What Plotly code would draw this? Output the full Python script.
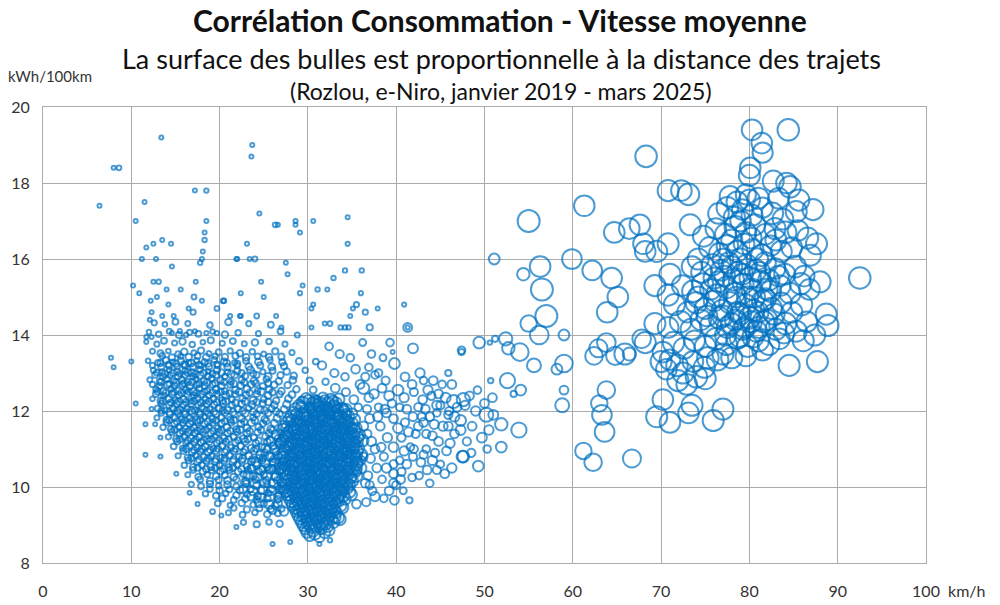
import plotly.graph_objects as go

# ---------------- data (speed km/h, consumption kWh/100km, trip distance km) -------------
short_speed = [
    6.4, 8.0, 8.6, 13.4, 11.5, 10.5, 17.2, 18.5, 18.5, 18.3,
    18.3, 13.5, 12.5, 14.5, 11.7, 18.1, 11.2, 12.8, 17.8, 18.0,
    21.9, 14.6, 13.1, 12.5, 17.3, 10.2, 10.9, 14.0, 15.6, 17.1,
    18.0, 20.4, 12.2, 12.9, 14.2, 19.7, 17.0, 16.5, 21.2, 12.3,
    12.1, 13.5, 14.8, 22.3, 23.7, 23.6, 24.5, 26.3, 26.6, 28.6,
    28.6, 29.1, 30.6, 34.5, 34.5, 23.1, 22.0, 23.4, 24.0, 27.5,
    27.7, 24.7, 22.4, 25.0, 20.5, 22.4, 24.2, 26.4, 27.0, 29.1,
    29.4, 31.1, 32.2, 32.9, 34.2, 36.1, 36.0, 35.5, 35.1, 34.8,
    36.5, 37.9, 40.9, 41.3, 30.4, 30.6, 30.4, 31.9, 32.5, 33.7,
    34.2, 34.6, 7.7, 8.0, 10.0, 10.5, 11.6, 11.6, 12.7, 12.3,
    13.3, 13.3, 15.1, 16.6, 17.5, 19.2, 20.2, 21.9, 26.0, 28.0,
    31.3, 32.5, 14.6, 15.5, 16.2, 17.2, 18.5, 19.7, 11.7, 12.3,
]
short_cons = [
    17.4, 18.4, 18.4, 19.2, 17.5, 17.0, 17.8, 17.8, 17.0, 16.7,
    16.5, 16.5, 16.4, 16.4, 16.3, 16.2, 16.0, 16.0, 15.9, 16.0,
    16.0, 15.8, 15.4, 15.4, 15.4, 15.3, 15.1, 15.2, 15.2, 15.0,
    14.9, 14.9, 14.9, 15.0, 14.8, 14.7, 14.6, 14.7, 14.5, 14.6,
    14.4, 14.5, 14.5, 14.5, 19.0, 18.7, 17.2, 16.9, 16.9, 17.0,
    16.9, 16.7, 17.0, 17.1, 16.4, 16.4, 16.0, 16.0, 16.0, 15.9,
    15.6, 15.4, 15.1, 15.0, 14.9, 14.5, 14.5, 14.5, 14.2, 15.1,
    15.3, 15.2, 15.2, 15.5, 15.7, 15.7, 15.1, 14.8, 14.7, 14.5,
    14.6, 14.7, 14.8, 14.2, 14.7, 14.8, 14.2, 14.3, 14.3, 14.2,
    14.2, 14.2, 13.4, 13.15, 13.3, 12.2, 10.85, 11.65, 11.65, 12.05,
    11.3, 10.8, 10.35, 9.85, 9.55, 9.35, 9.25, 8.95, 8.5, 8.55,
    8.5, 8.6, 14.05, 14.1, 14.0, 14.1, 14.05, 14.05, 13.95, 13.95,
]
short_dist = [
    4, 4, 12, 5, 3, 8, 8, 10, 8, 6,
    10, 4, 5, 4, 4, 7, 5, 5, 10, 6,
    8, 5, 10, 5, 5, 3, 7, 2, 8, 12,
    8, 12, 6, 5, 6, 12, 14, 6, 8, 4,
    8, 4, 5, 8, 4, 8, 4, 12, 8, 9,
    8, 3, 4, 8, 9, 7, 8, 6, 12, 6,
    5, 4, 6, 5, 10, 7, 12, 3, 8, 9,
    6, 10, 8, 10, 10, 10, 9, 14, 8, 8,
    14, 6, 9, 9, 8, 8, 7, 8, 12, 10,
    10, 10, 3, 3, 3, 3, 3, 4, 4, 8,
    4, 3, 8, 8, 4, 12, 8, 4, 6, 5,
    8, 10, 8, 9, 10, 8, 9, 10, 6, 7,
]

urban_speed = [
    12.6, 13.8, 15.0, 16.4, 18.9, 21.0, 23.3, 25.8,
    12.0, 13.1, 14.3, 15.4, 16.6, 17.6, 19.2, 20.6, 22.1, 24.4, 26.9, 28.8,
    11.7, 12.9, 13.7, 14.9, 15.8, 16.9, 18.1, 19.0, 20.3, 21.5, 22.8, 24.0, 25.6, 27.4,
    12.4, 13.3, 14.2, 15.3, 16.0, 17.1, 17.9, 18.8, 19.9, 21.2, 22.3, 23.7, 25.0, 26.3, 28.2,
    11.9, 13.0, 13.9, 14.7, 15.6, 16.5, 17.4, 18.3, 19.4, 20.5, 21.7, 23.0, 24.4, 25.7, 27.1, 29.0, 30.9,
    12.5, 13.5, 14.3, 15.2, 16.1, 16.9, 17.8, 18.7, 19.7, 20.9, 22.0, 23.5, 24.9, 26.0, 27.6, 29.7,
    12.1, 13.2, 14.0, 14.8, 15.7, 16.4, 17.3, 18.2, 19.1, 20.1, 21.3, 22.5, 23.9, 25.3, 26.7, 28.3, 30.2, 32.0,
    12.8, 13.6, 14.5, 15.3, 16.2, 17.0, 17.7, 18.6, 19.6, 20.6, 21.8, 23.1, 24.3, 25.6, 27.0, 28.7, 30.6,
    12.4, 13.3, 14.2, 15.0, 15.9, 16.7, 17.5, 18.4, 19.3, 20.3, 21.4, 22.6, 23.8, 25.0, 26.4, 27.8, 29.3, 31.0,
    13.0, 13.8, 14.7, 15.5, 16.3, 17.2, 18.0, 18.9, 19.9, 20.9, 22.1, 23.3, 24.6, 25.9, 27.3,
    12.9, 14.0, 14.9, 15.7, 16.6, 17.4, 18.3, 19.2, 20.2, 21.2, 22.5, 23.8, 25.1, 26.5,
    13.6, 14.5, 15.4, 16.2, 17.1, 17.9, 18.8, 19.8, 20.8, 21.9, 23.1, 24.4, 25.8,
    14.2, 15.1, 16.0, 16.8, 17.7, 18.6, 19.5, 20.5, 21.6, 22.7, 23.9, 25.2, 26.6,
    14.8, 15.8, 16.6, 17.5, 18.4, 19.3, 20.3, 21.3, 22.4, 23.6, 24.8, 26.1,
    15.3, 16.4, 17.3, 18.2, 19.1, 20.1, 21.1, 22.2, 23.3, 24.5, 25.8,
    16.0, 17.0, 18.0, 19.0, 20.0, 21.0, 22.0, 23.1, 24.2, 25.4, 26.6,
    16.4, 17.6, 18.6, 19.6, 20.6, 21.6, 22.7, 23.8, 25.0, 26.2,
    16.8, 17.9, 18.9, 19.9, 20.9, 21.9, 23.0, 24.2, 25.4, 26.6,
    18.4, 19.6, 20.7, 21.9, 23.1, 24.3, 25.5, 26.7,
    19.8, 21.2, 22.5, 23.8, 25.0, 26.3,
    21.0, 22.6, 24.0, 25.4, 26.6,
    22.7, 24.2, 25.6, 26.8,
]
urban_cons = [
    14.32, 14.28, 14.35, 14.3, 14.26, 14.34, 14.3, 14.27,
    14.08, 14.02, 14.1, 14.0, 14.07, 14.03, 14.09, 14.01, 14.06, 14.04, 14.1, 14.0,
    13.82, 13.76, 13.85, 13.79, 13.83, 13.75, 13.81, 13.86, 13.78, 13.84, 13.77, 13.8, 13.83, 13.76,
    13.57, 13.52, 13.58, 13.5, 13.56, 13.53, 13.59, 13.51, 13.55, 13.58, 13.52, 13.56, 13.5, 13.57, 13.54,
    13.32, 13.27, 13.34, 13.29, 13.31, 13.26, 13.33, 13.28, 13.35, 13.3, 13.27, 13.32, 13.29, 13.34, 13.28, 13.31, 13.3,
    13.07, 13.02, 13.08, 13.03, 13.06, 13.01, 13.09, 13.04, 13.07, 13.02, 13.05, 13.08, 13.03, 13.06, 13.04, 13.07,
    12.82, 12.77, 12.84, 12.79, 12.81, 12.76, 12.83, 12.78, 12.85, 12.8, 12.77, 12.82, 12.79, 12.84, 12.78, 12.81, 12.8, 12.77,
    12.57, 12.52, 12.58, 12.53, 12.56, 12.51, 12.59, 12.54, 12.57, 12.52, 12.55, 12.58, 12.53, 12.56, 12.52, 12.57, 12.55,
    12.32, 12.27, 12.33, 12.28, 12.31, 12.26, 12.34, 12.29, 12.32, 12.27, 12.3, 12.33, 12.28, 12.31, 12.27, 12.32, 12.29, 12.3,
    12.07, 12.02, 12.08, 12.03, 12.06, 12.01, 12.09, 12.04, 12.07, 12.02, 12.05, 12.08, 12.03, 12.06, 12.04,
    11.82, 11.77, 11.83, 11.78, 11.81, 11.76, 11.84, 11.79, 11.82, 11.77, 11.8, 11.83, 11.78, 11.81,
    11.57, 11.52, 11.58, 11.53, 11.56, 11.51, 11.59, 11.54, 11.57, 11.52, 11.55, 11.58, 11.53,
    11.32, 11.27, 11.33, 11.28, 11.31, 11.26, 11.34, 11.29, 11.32, 11.27, 11.3, 11.33, 11.28,
    11.07, 11.02, 11.08, 11.03, 11.06, 11.01, 11.09, 11.04, 11.07, 11.02, 11.05, 11.08,
    10.82, 10.77, 10.83, 10.78, 10.81, 10.76, 10.84, 10.79, 10.82, 10.77, 10.8,
    10.57, 10.52, 10.58, 10.53, 10.56, 10.51, 10.59, 10.54, 10.57, 10.52, 10.55,
    10.32, 10.27, 10.33, 10.28, 10.31, 10.26, 10.34, 10.29, 10.32, 10.27,
    10.07, 10.02, 10.08, 10.03, 10.06, 10.01, 10.09, 10.04, 10.07, 10.02,
    9.82, 9.77, 9.83, 9.78, 9.81, 9.76, 9.84, 9.79,
    9.57, 9.52, 9.58, 9.53, 9.56, 9.51,
    9.32, 9.27, 9.33, 9.28, 9.31,
    9.07, 9.02, 9.08, 9.03,
]
urban_dist = [
    14, 11, 18, 13, 16, 22, 14, 18,
    11, 16, 13, 20, 14, 18, 11, 22, 16, 14, 18, 13,
    9, 14, 18, 13, 22, 16, 11, 20, 14, 18, 13, 22, 16, 14,
    13, 18, 11, 16, 22, 14, 20, 13, 18, 14, 22, 16, 13, 20, 14,
    11, 16, 20, 14, 24, 18, 13, 22, 16, 20, 14, 18, 24, 16, 20, 22, 18,
    14, 20, 13, 22, 16, 25, 18, 14, 22, 16, 20, 24, 14, 18, 22, 16,
    13, 18, 22, 16, 25, 20, 14, 24, 18, 22, 16, 20, 25, 18, 22, 24, 20, 22,
    16, 22, 14, 24, 18, 27, 20, 16, 24, 18, 22, 25, 16, 20, 24, 22, 25,
    11, 18, 24, 16, 22, 14, 25, 20, 18, 24, 16, 22, 27, 18, 22, 25, 20, 24,
    18, 14, 22, 25, 16, 20, 24, 18, 22, 27, 20, 16, 24, 22, 25,
    13, 20, 24, 18, 22, 27, 16, 22, 25, 20, 24, 18, 22, 25,
    16, 22, 18, 25, 20, 24, 16, 22, 27, 18, 24, 20, 25,
    14, 22, 18, 24, 20, 25, 16, 22, 18, 27, 20, 24, 22,
    18, 14, 22, 20, 25, 16, 24, 18, 22, 25, 20, 24,
    14, 20, 16, 24, 18, 22, 25, 20, 24, 18, 22,
    16, 22, 18, 24, 20, 25, 18, 22, 27, 20, 24,
    13, 20, 16, 22, 18, 24, 20, 25, 22, 24,
    14, 18, 22, 16, 24, 20, 22, 25, 18, 24,
    16, 20, 14, 22, 18, 24, 20, 22,
    18, 14, 22, 16, 20, 24,
    13, 18, 16, 22, 18,
    14, 20, 16, 22,
]

urban2_speed = [
    13.5, 14.6, 15.6, 16.5, 17.5, 18.5, 19.5, 20.6, 21.8, 23.0, 24.3, 25.6, 27.0,
    12.4, 13.4, 14.3, 15.2, 16.1, 17.0, 17.9, 18.8, 19.8, 20.9, 22.0, 23.3, 24.6, 25.9, 27.3,
    12.7, 13.6, 14.4, 15.3, 16.1, 17.0, 17.8, 18.7, 19.6, 20.6, 21.7, 22.9, 24.2, 25.5, 26.9, 28.4,
    12.4, 13.2, 14.1, 14.9, 15.8, 16.6, 17.4, 18.3, 19.2, 20.2, 21.2, 22.4, 23.6, 24.9, 26.2, 27.7,
    12.8, 13.7, 14.6, 15.4, 16.3, 17.1, 17.9, 18.8, 19.7, 20.7, 21.8, 23.0, 24.2, 25.5, 26.8, 28.2,
    13.4, 14.3, 15.1, 15.9, 16.8, 17.6, 18.5, 19.4, 20.4, 21.4, 22.5, 23.7, 24.9, 26.2, 27.6,
    13.4, 14.4, 15.3, 16.1, 16.9, 17.8, 18.7, 19.6, 20.6, 21.7, 22.9, 24.2, 25.5, 26.8,
    14.0, 14.9, 15.8, 16.6, 17.5, 18.3, 19.2, 20.2, 21.3, 22.4, 23.6, 24.9, 26.2,
    14.6, 15.5, 16.4, 17.2, 18.1, 19.0, 19.9, 20.9, 22.0, 23.1, 24.3, 25.6, 26.9,
    15.2, 16.2, 17.1, 17.9, 18.8, 19.7, 20.7, 21.8, 22.9, 24.1, 25.4, 26.7,
    15.9, 16.9, 17.8, 18.7, 19.6, 20.6, 21.6, 22.7, 23.9, 25.1, 26.4,
    16.5, 17.5, 18.5, 19.5, 20.5, 21.5, 22.5, 23.6, 24.8, 26.0, 27.1,
    17.0, 18.1, 19.1, 20.1, 21.1, 22.1, 23.2, 24.4, 25.6, 26.8,
    17.8, 18.9, 19.9, 20.9, 21.9, 23.0, 24.1, 25.3, 26.5,
    18.9, 20.0, 21.1, 22.3, 23.5, 24.7, 25.9, 27.0,
    20.3, 21.6, 22.9, 24.2, 25.4, 26.6,
    21.6, 23.1, 24.5, 25.8, 27.0,
]
urban2_cons = [
    13.45, 13.41, 13.44, 13.42, 13.45, 13.41, 13.44, 13.42, 13.45, 13.41, 13.44, 13.42, 13.43,
    13.2, 13.16, 13.19, 13.17, 13.2, 13.16, 13.19, 13.17, 13.2, 13.16, 13.19, 13.17, 13.2, 13.16, 13.18,
    12.95, 12.91, 12.94, 12.92, 12.95, 12.91, 12.94, 12.92, 12.95, 12.91, 12.94, 12.92, 12.95, 12.91, 12.94, 12.93,
    12.7, 12.66, 12.69, 12.67, 12.7, 12.66, 12.69, 12.67, 12.7, 12.66, 12.69, 12.67, 12.7, 12.66, 12.69, 12.68,
    12.45, 12.41, 12.44, 12.42, 12.45, 12.41, 12.44, 12.42, 12.45, 12.41, 12.44, 12.42, 12.45, 12.41, 12.44, 12.43,
    12.2, 12.16, 12.19, 12.17, 12.2, 12.16, 12.19, 12.17, 12.2, 12.16, 12.19, 12.17, 12.2, 12.16, 12.18,
    11.95, 11.91, 11.94, 11.92, 11.95, 11.91, 11.94, 11.92, 11.95, 11.91, 11.94, 11.92, 11.95, 11.93,
    11.7, 11.66, 11.69, 11.67, 11.7, 11.66, 11.69, 11.67, 11.7, 11.66, 11.69, 11.67, 11.68,
    11.45, 11.41, 11.44, 11.42, 11.45, 11.41, 11.44, 11.42, 11.45, 11.41, 11.44, 11.42, 11.43,
    11.2, 11.16, 11.19, 11.17, 11.2, 11.16, 11.19, 11.17, 11.2, 11.16, 11.19, 11.18,
    10.95, 10.91, 10.94, 10.92, 10.95, 10.91, 10.94, 10.92, 10.95, 10.91, 10.93,
    10.7, 10.66, 10.69, 10.67, 10.7, 10.66, 10.69, 10.67, 10.7, 10.66, 10.68,
    10.45, 10.41, 10.44, 10.42, 10.45, 10.41, 10.44, 10.42, 10.45, 10.43,
    10.2, 10.16, 10.19, 10.17, 10.2, 10.16, 10.19, 10.17, 10.18,
    9.95, 9.91, 9.94, 9.92, 9.95, 9.91, 9.94, 9.93,
    9.7, 9.66, 9.69, 9.67, 9.7, 9.68,
    9.45, 9.41, 9.44, 9.42, 9.43,
]
urban2_dist = [
    16, 20, 14, 22, 18, 24, 15, 21, 19, 23, 17, 22, 20,
    14, 19, 22, 17, 24, 20, 16, 23, 18, 21, 15, 22, 19, 24, 20,
    18, 22, 15, 24, 20, 17, 25, 19, 22, 16, 23, 20, 18, 24, 21, 22,
    15, 21, 24, 18, 22, 26, 17, 23, 20, 24, 18, 22, 25, 19, 23, 21,
    19, 16, 23, 21, 25, 18, 24, 20, 22, 26, 19, 23, 21, 25, 20, 24,
    17, 22, 25, 19, 23, 21, 26, 20, 24, 18, 22, 25, 21, 23, 26,
    16, 21, 24, 20, 26, 22, 19, 25, 23, 21, 26, 20, 24, 22,
    19, 23, 21, 26, 20, 24, 22, 25, 19, 23, 26, 21, 24,
    17, 22, 25, 20, 24, 21, 26, 23, 20, 25, 22, 24, 21,
    20, 16, 24, 22, 26, 19, 23, 21, 25, 22, 24, 20,
    18, 22, 20, 25, 21, 24, 23, 19, 26, 22, 24,
    17, 23, 20, 24, 22, 26, 21, 25, 23, 20, 24,
    16, 21, 19, 24, 22, 25, 20, 23, 26, 22,
    18, 22, 20, 25, 21, 24, 23, 26, 22,
    17, 21, 19, 24, 22, 25, 20, 23,
    20, 17, 23, 21, 24, 22,
    16, 21, 19, 23, 20,
]

urban3_speed = [
    13.3, 14.2, 15.1, 16.0, 16.8, 17.7, 18.7, 19.7, 20.8, 22.0,
    12.9, 13.8, 14.7, 15.5, 16.4, 17.3, 18.2, 19.2, 20.2, 21.3, 22.5, 23.8,
    13.4, 14.3, 15.1, 16.0, 16.9, 17.7, 18.6, 19.5, 20.5, 21.6, 22.8, 24.1, 25.5,
    13.0, 13.9, 14.8, 15.7, 16.5, 17.4, 18.3, 19.2, 20.1, 21.1, 22.2, 23.4, 24.7, 26.0,
    13.6, 14.5, 15.4, 16.2, 17.1, 17.9, 18.8, 19.7, 20.7, 21.8, 22.9, 24.2, 25.5,
    13.4, 14.3, 15.2, 16.0, 16.8, 17.7, 18.5, 19.4, 20.4, 21.5, 22.6, 23.8, 25.1, 26.4,
    14.3, 15.2, 16.1, 16.9, 17.8, 18.7, 19.6, 20.6, 21.6, 22.8, 24.0, 25.3,
    14.9, 15.8, 16.7, 17.5, 18.4, 19.3, 20.2, 21.2, 22.3, 23.4, 24.7, 26.0,
    15.5, 16.4, 17.3, 18.2, 19.1, 20.0, 21.0, 22.1, 23.2, 24.4, 25.7,
    16.2, 17.1, 18.0, 18.9, 19.8, 20.8, 21.8, 22.9, 24.1, 25.4,
    16.8, 17.7, 18.7, 19.6, 20.6, 21.6, 22.6, 23.7, 24.9, 26.1,
    17.5, 18.5, 19.5, 20.5, 21.5, 22.5, 23.6, 24.8, 26.0,
]
urban3_cons = [
    13.26, 13.22, 13.25, 13.23, 13.26, 13.22, 13.25, 13.23, 13.26, 13.24,
    13.01, 12.97, 13.0, 12.98, 13.01, 12.97, 13.0, 12.98, 13.01, 12.97, 13.0, 12.99,
    12.76, 12.72, 12.75, 12.73, 12.76, 12.72, 12.75, 12.73, 12.76, 12.72, 12.75, 12.73, 12.74,
    12.51, 12.47, 12.5, 12.48, 12.51, 12.47, 12.5, 12.48, 12.51, 12.47, 12.5, 12.48, 12.51, 12.49,
    12.26, 12.22, 12.25, 12.23, 12.26, 12.22, 12.25, 12.23, 12.26, 12.22, 12.25, 12.23, 12.24,
    12.01, 11.97, 12.0, 11.98, 12.01, 11.97, 12.0, 11.98, 12.01, 11.97, 12.0, 11.98, 12.01, 11.99,
    11.76, 11.72, 11.75, 11.73, 11.76, 11.72, 11.75, 11.73, 11.76, 11.72, 11.75, 11.74,
    11.51, 11.47, 11.5, 11.48, 11.51, 11.47, 11.5, 11.48, 11.51, 11.47, 11.5, 11.49,
    11.26, 11.22, 11.25, 11.23, 11.26, 11.22, 11.25, 11.23, 11.26, 11.22, 11.24,
    11.01, 10.97, 11.0, 10.98, 11.01, 10.97, 11.0, 10.98, 11.01, 10.99,
    10.76, 10.72, 10.75, 10.73, 10.76, 10.72, 10.75, 10.73, 10.76, 10.74,
    10.51, 10.47, 10.5, 10.48, 10.51, 10.47, 10.5, 10.48, 10.49,
]
urban3_dist = [
    20, 16, 23, 19, 25, 18, 22, 17, 24, 20,
    18, 24, 21, 16, 25, 20, 23, 18, 22, 26, 19, 21,
    22, 17, 25, 20, 23, 19, 26, 21, 18, 24, 20, 23, 19,
    19, 23, 18, 26, 21, 24, 20, 25, 22, 18, 24, 21, 26, 20,
    24, 20, 26, 22, 19, 25, 21, 23, 27, 20, 24, 22, 25,
    18, 22, 25, 21, 26, 20, 24, 22, 19, 26, 23, 21, 25, 22,
    21, 25, 19, 24, 22, 27, 20, 23, 25, 21, 24, 22,
    23, 19, 26, 22, 24, 20, 25, 21, 27, 23, 20, 24,
    20, 24, 22, 26, 21, 25, 23, 19, 24, 22, 26,
    22, 19, 25, 23, 21, 26, 20, 24, 22, 25,
    19, 23, 21, 25, 22, 24, 26, 20, 23, 21,
    21, 24, 20, 26, 22, 25, 23, 21, 24,
]

core_speed = [
    29.8, 30.8, 31.7, 32.6, 33.5,
    29.0, 30.2, 31.1, 32.0, 32.9, 33.8,
    28.4, 29.4, 30.5, 31.4, 32.3, 33.2, 34.1, 35.0,
    27.9, 28.8, 29.8, 30.7, 31.6, 32.5, 33.4, 34.3, 35.3,
    27.3, 28.2, 29.2, 30.1, 31.0, 31.9, 32.8, 33.7, 34.6, 35.5,
    27.7, 28.6, 29.5, 30.4, 31.3, 32.2, 33.1, 34.0, 34.9, 35.8,
    27.2, 28.1, 29.0, 29.9, 30.8, 31.7, 32.6, 33.5, 34.4, 35.3, 36.2,
    27.6, 28.5, 29.4, 30.3, 31.2, 32.1, 33.0, 33.9, 34.8, 35.7,
    27.1, 28.0, 28.9, 29.8, 30.7, 31.6, 32.5, 33.4, 34.3, 35.2, 36.1,
    27.5, 28.4, 29.3, 30.2, 31.1, 32.0, 32.9, 33.8, 34.7, 35.6,
    27.0, 27.9, 28.8, 29.7, 30.6, 31.5, 32.4, 33.3, 34.2, 35.1, 36.0,
    27.4, 28.3, 29.2, 30.1, 31.0, 31.9, 32.8, 33.7, 34.6, 35.5,
    27.8, 28.7, 29.6, 30.5, 31.4, 32.3, 33.2, 34.1, 35.0,
    27.3, 28.2, 29.1, 30.0, 30.9, 31.8, 32.7, 33.6, 34.5,
    27.7, 28.6, 29.5, 30.4, 31.3, 32.2, 33.1, 34.0, 34.9,
    28.1, 29.0, 29.9, 30.8, 31.7, 32.6, 33.5,
    28.5, 29.4, 30.3, 31.2, 32.1, 33.0, 33.9,
    28.9, 29.8, 30.7, 31.6, 32.5, 33.4,
    29.3, 30.2, 31.1, 32.0, 32.9,
    29.7, 30.6, 31.5, 32.4,
    30.2, 31.3,
]
core_cons = [
    12.33, 12.27, 12.35, 12.29, 12.31,
    12.14, 12.09, 12.15, 12.1, 12.13, 12.08,
    11.96, 11.91, 11.97, 11.92, 11.95, 11.9, 11.98, 11.93,
    11.78, 11.73, 11.79, 11.74, 11.77, 11.72, 11.8, 11.75, 11.78,
    11.6, 11.55, 11.61, 11.56, 11.59, 11.54, 11.62, 11.57, 11.6, 11.55,
    11.42, 11.37, 11.43, 11.38, 11.41, 11.36, 11.44, 11.39, 11.42, 11.37,
    11.24, 11.19, 11.25, 11.2, 11.23, 11.18, 11.26, 11.21, 11.24, 11.19, 11.22,
    11.06, 11.01, 11.07, 11.02, 11.05, 11.0, 11.08, 11.03, 11.06, 11.01,
    10.88, 10.83, 10.89, 10.84, 10.87, 10.82, 10.9, 10.85, 10.88, 10.83, 10.86,
    10.7, 10.65, 10.71, 10.66, 10.69, 10.64, 10.72, 10.67, 10.7, 10.65,
    10.52, 10.47, 10.53, 10.48, 10.51, 10.46, 10.54, 10.49, 10.52, 10.47, 10.5,
    10.34, 10.29, 10.35, 10.3, 10.33, 10.28, 10.36, 10.31, 10.34, 10.29,
    10.16, 10.11, 10.17, 10.12, 10.15, 10.1, 10.18, 10.13, 10.16,
    9.98, 9.93, 9.99, 9.94, 9.97, 9.92, 10.0, 9.95, 9.98,
    9.8, 9.75, 9.81, 9.76, 9.79, 9.74, 9.82, 9.77, 9.8,
    9.62, 9.57, 9.63, 9.58, 9.61, 9.56, 9.64,
    9.44, 9.39, 9.45, 9.4, 9.43, 9.38, 9.46,
    9.26, 9.21, 9.27, 9.22, 9.25, 9.2,
    9.08, 9.03, 9.09, 9.04, 9.07,
    8.9, 8.85, 8.91, 8.86,
    8.72, 8.68,
]
core_dist = [
    60, 72, 55, 78, 65,
    70, 58, 82, 63, 74, 56,
    66, 78, 57, 85, 70, 62, 76, 55,
    73, 63, 82, 70, 58, 79, 66, 76, 61,
    63, 76, 70, 85, 61, 73, 80, 66, 78, 58,
    70, 60, 79, 66, 88, 71, 63, 82, 68, 76,
    66, 78, 73, 63, 85, 76, 68, 80, 71, 61, 70,
    76, 65, 83, 73, 66, 90, 70, 79, 63, 75,
    63, 73, 80, 70, 78, 66, 86, 75, 68, 79, 61,
    71, 82, 65, 76, 85, 73, 68, 79, 70, 65,
    66, 76, 70, 80, 73, 88, 78, 66, 75, 71, 63,
    75, 68, 82, 71, 79, 70, 85, 76, 66, 73,
    70, 79, 73, 83, 66, 78, 75, 68, 76,
    65, 75, 80, 71, 85, 76, 70, 79, 66,
    73, 68, 78, 82, 71, 76, 65, 75, 70,
    70, 79, 73, 66, 80, 75, 68,
    63, 75, 82, 71, 78, 68, 73,
    71, 66, 78, 73, 65, 76,
    68, 76, 70, 79, 66,
    65, 73, 70, 61,
    60, 53,
]

core2_speed = [
    29.4, 30.5, 31.4, 32.3, 33.2,
    28.6, 29.7, 30.7, 31.6, 32.5, 33.4, 34.3,
    28.1, 29.0, 30.0, 31.0, 31.9, 32.8, 33.7, 34.6,
    27.6, 28.5, 29.5, 30.4, 31.3, 32.2, 33.1, 34.0, 35.0,
    27.2, 28.0, 28.9, 29.9, 30.8, 31.7, 32.6, 33.5, 34.4, 35.3,
    27.5, 28.4, 29.3, 30.2, 31.1, 32.0, 32.9, 33.8, 34.7, 35.6,
    27.0, 28.0, 28.9, 29.8, 30.7, 31.6, 32.5, 33.4, 34.3, 35.2,
    27.4, 28.3, 29.2, 30.1, 31.0, 31.9, 32.8, 33.7, 34.6, 35.5,
    27.2, 28.1, 29.0, 29.9, 30.8, 31.7, 32.6, 33.5, 34.4, 35.4,
    27.3, 28.2, 29.1, 30.0, 30.9, 31.8, 32.7, 33.6, 34.5, 35.5,
    27.2, 28.1, 29.0, 29.9, 30.8, 31.7, 32.6, 33.5, 34.4, 35.3,
    27.6, 28.5, 29.4, 30.3, 31.2, 32.1, 33.0, 33.9, 34.8,
    27.5, 28.4, 29.3, 30.2, 31.1, 32.0, 32.9, 33.8, 34.7,
    27.5, 28.4, 29.3, 30.2, 31.1, 32.0, 32.9, 33.8, 34.7,
    27.9, 28.8, 29.7, 30.6, 31.5, 32.4, 33.3, 34.2,
    28.3, 29.2, 30.1, 31.0, 31.9, 32.8, 33.7,
    28.7, 29.6, 30.5, 31.4, 32.3, 33.2,
    29.1, 30.0, 30.9, 31.8, 32.7, 33.6,
    29.5, 30.4, 31.3, 32.2,
    29.9, 30.8, 31.9,
]
core2_cons = [
    12.23, 12.19, 12.22, 12.2, 12.21,
    12.05, 12.01, 12.04, 12.02, 12.05, 12.01, 12.03,
    11.87, 11.83, 11.86, 11.84, 11.87, 11.83, 11.86, 11.85,
    11.69, 11.65, 11.68, 11.66, 11.69, 11.65, 11.68, 11.66, 11.67,
    11.51, 11.47, 11.5, 11.48, 11.51, 11.47, 11.5, 11.48, 11.51, 11.49,
    11.33, 11.29, 11.32, 11.3, 11.33, 11.29, 11.32, 11.3, 11.33, 11.31,
    11.15, 11.11, 11.14, 11.12, 11.15, 11.11, 11.14, 11.12, 11.15, 11.13,
    10.97, 10.93, 10.96, 10.94, 10.97, 10.93, 10.96, 10.94, 10.97, 10.95,
    10.79, 10.75, 10.78, 10.76, 10.79, 10.75, 10.78, 10.76, 10.79, 10.77,
    10.61, 10.57, 10.6, 10.58, 10.61, 10.57, 10.6, 10.58, 10.61, 10.59,
    10.43, 10.39, 10.42, 10.4, 10.43, 10.39, 10.42, 10.4, 10.43, 10.41,
    10.25, 10.21, 10.24, 10.22, 10.25, 10.21, 10.24, 10.22, 10.23,
    10.07, 10.03, 10.06, 10.04, 10.07, 10.03, 10.06, 10.04, 10.05,
    9.89, 9.85, 9.88, 9.86, 9.89, 9.85, 9.88, 9.86, 9.87,
    9.71, 9.67, 9.7, 9.68, 9.71, 9.67, 9.7, 9.69,
    9.53, 9.49, 9.52, 9.5, 9.53, 9.49, 9.51,
    9.35, 9.31, 9.34, 9.32, 9.35, 9.33,
    9.17, 9.13, 9.16, 9.14, 9.17, 9.15,
    8.99, 8.95, 8.98, 8.97,
    8.81, 8.77, 8.8,
]
core2_dist = [
    70, 79, 63, 76, 66,
    73, 65, 82, 70, 78, 68, 75,
    68, 79, 71, 85, 66, 76, 80, 70,
    78, 66, 75, 83, 70, 79, 65, 76, 71,
    71, 80, 68, 76, 86, 73, 66, 79, 75, 70,
    76, 68, 82, 71, 79, 75, 85, 66, 78, 73,
    70, 79, 75, 66, 83, 71, 78, 80, 68, 76,
    75, 66, 80, 76, 70, 88, 73, 78, 71, 79,
    68, 78, 73, 82, 71, 79, 70, 83, 75, 66,
    79, 71, 76, 68, 85, 75, 80, 70, 78, 73,
    73, 82, 70, 78, 75, 83, 71, 79, 68, 76,
    78, 70, 80, 75, 68, 82, 73, 76, 71,
    71, 79, 75, 83, 70, 78, 73, 80, 66,
    76, 68, 82, 73, 79, 71, 85, 75, 70,
    70, 78, 73, 80, 75, 68, 79, 71,
    75, 66, 79, 71, 76, 70, 73,
    68, 76, 71, 80, 73, 66,
    73, 79, 70, 76, 68, 75,
    70, 76, 66, 73,
    65, 71, 61,
]

core3_speed = [
    30.1, 31.0, 31.9, 32.8,
    29.3, 30.4, 31.3, 32.2, 33.1, 34.0,
    28.7, 29.7, 30.7, 31.6, 32.5, 33.4, 34.3,
    28.2, 29.1, 30.0, 31.0, 31.9, 32.8, 33.7, 34.6,
    27.6, 28.5, 29.5, 30.4, 31.3, 32.2, 33.1, 34.0, 34.9,
    26.4, 27.9, 28.9, 29.8, 30.7, 31.6, 32.5, 33.4, 34.3, 35.2,
    25.8, 26.8, 27.5, 28.4, 29.3, 30.2, 31.1, 32.0, 32.9, 33.8, 34.7, 35.6,
    25.2, 26.3, 27.9, 28.8, 29.7, 30.6, 31.5, 32.4, 33.3, 34.2, 35.1,
    24.6, 25.7, 26.6, 27.4, 28.3, 29.2, 30.1, 31.0, 31.9, 32.8, 33.7, 34.6, 35.5,
    24.1, 25.2, 26.2, 27.8, 28.7, 29.6, 30.5, 31.4, 32.3, 33.2, 34.1, 35.0,
    23.6, 24.7, 25.8, 26.7, 27.4, 28.3, 29.2, 30.1, 31.0, 31.9, 32.8, 33.7, 34.6, 35.5,
    23.2, 24.3, 25.4, 26.4, 27.7, 28.6, 29.5, 30.4, 31.3, 32.2, 33.1, 34.0, 34.9,
    22.9, 24.0, 25.1, 26.1, 27.1, 28.1, 29.0, 29.9, 30.8, 31.7, 32.6, 33.5, 34.4,
    22.7, 23.8, 24.9, 25.9, 26.9, 27.7, 28.6, 29.5, 30.4, 31.3, 32.2, 33.1, 34.0,
    23.6, 24.7, 25.7, 26.7, 28.1, 29.0, 29.9, 30.8, 31.7, 32.6, 33.5,
    24.5, 25.6, 26.6, 28.6, 29.5, 30.4, 31.3, 32.2, 33.1,
    26.0, 27.3, 29.0, 29.9, 30.8, 31.7, 32.6,
    29.5, 30.4, 31.3, 32.2, 33.1,
    29.9, 30.8, 31.7,
]
core3_cons = [
    12.28, 12.24, 12.27, 12.25,
    12.1, 12.06, 12.09, 12.07, 12.1, 12.06,
    11.92, 11.88, 11.91, 11.89, 11.92, 11.88, 11.9,
    11.74, 11.7, 11.73, 11.71, 11.74, 11.7, 11.73, 11.71,
    11.56, 11.52, 11.55, 11.53, 11.56, 11.52, 11.55, 11.53, 11.54,
    11.38, 11.34, 11.37, 11.35, 11.38, 11.34, 11.37, 11.35, 11.38, 11.36,
    11.2, 11.16, 11.19, 11.17, 11.2, 11.16, 11.19, 11.17, 11.2, 11.16, 11.19, 11.18,
    11.02, 10.98, 11.01, 10.99, 11.02, 10.98, 11.01, 10.99, 11.02, 10.98, 11.0,
    10.84, 10.8, 10.83, 10.81, 10.84, 10.8, 10.83, 10.81, 10.84, 10.8, 10.83, 10.81, 10.82,
    10.66, 10.62, 10.65, 10.63, 10.66, 10.62, 10.65, 10.63, 10.66, 10.62, 10.65, 10.64,
    10.48, 10.44, 10.47, 10.45, 10.48, 10.44, 10.47, 10.45, 10.48, 10.44, 10.47, 10.45, 10.48, 10.46,
    10.3, 10.26, 10.29, 10.27, 10.3, 10.26, 10.29, 10.27, 10.3, 10.26, 10.29, 10.27, 10.28,
    10.12, 10.08, 10.11, 10.09, 10.12, 10.08, 10.11, 10.09, 10.12, 10.08, 10.11, 10.09, 10.1,
    9.94, 9.9, 9.93, 9.91, 9.94, 9.9, 9.93, 9.91, 9.94, 9.9, 9.93, 9.91, 9.92,
    9.76, 9.72, 9.75, 9.73, 9.76, 9.72, 9.75, 9.73, 9.76, 9.72, 9.74,
    9.58, 9.54, 9.57, 9.55, 9.58, 9.54, 9.57, 9.55, 9.56,
    9.4, 9.36, 9.39, 9.37, 9.4, 9.36, 9.38,
    9.22, 9.18, 9.21, 9.19, 9.2,
    9.04, 9.0, 9.02,
]
core3_dist = [
    66, 74, 60, 71,
    70, 62, 78, 66, 73, 58,
    64, 75, 69, 80, 62, 72, 67,
    71, 63, 77, 68, 82, 65, 74, 60,
    66, 74, 61, 79, 70, 76, 63, 72, 68,
    40, 73, 65, 78, 69, 84, 62, 75, 70, 64,
    36, 42, 68, 76, 63, 80, 71, 66, 77, 69, 73, 61,
    38, 44, 72, 65, 79, 70, 83, 67, 74, 62, 71,
    35, 41, 38, 66, 75, 69, 81, 64, 77, 72, 68, 74, 63,
    40, 36, 43, 70, 63, 78, 67, 82, 71, 65, 76, 69,
    37, 42, 39, 44, 72, 66, 80, 69, 75, 63, 78, 70, 67, 61,
    41, 36, 43, 38, 68, 76, 64, 79, 71, 74, 66, 72, 65,
    39, 44, 37, 42, 40, 73, 67, 81, 70, 76, 64, 71, 68,
    36, 41, 38, 45, 40, 69, 75, 66, 78, 72, 68, 74, 63,
    40, 37, 43, 39, 71, 65, 77, 70, 74, 67, 62,
    38, 42, 36, 68, 74, 66, 72, 70, 64,
    35, 40, 67, 73, 65, 71, 62,
    66, 72, 63, 69, 60,
    62, 68, 58,
]

road_speed = [
    41.3, 41.9, 39.8, 39.6, 47.4, 36.9, 37.6, 42.7, 43.1, 44.2,
    45.2, 46.3, 45.9, 36.3, 40.2, 46.5, 47.8, 46.9, 45.0, 43.3,
    42.5, 41.2, 40.4, 39.5, 38.7, 38.0, 36.7, 35.7, 43.8, 42.9,
    41.9, 41.0, 42.5, 47.3, 47.3, 45.9, 44.6, 43.4, 44.1, 42.2,
    46.1, 45.7, 47.5, 45.5, 44.6, 43.5, 43.1, 41.6, 41.9, 41.2,
    40.4, 39.7, 39.7, 40.6, 41.8, 39.7, 40.0, 39.8, 41.5, 35.5,
    36.5, 37.0, 36.8, 36.0, 36.3, 35.0, 49.4, 50.6, 51.2, 52.4,
    52.7, 54.0, 47.4, 55.6, 52.6, 54.1, 53.3, 50.9, 50.7, 59.0,
    53.9, 51.9, 51.9, 49.3, 47.6, 50.2, 48.3, 49.0, 48.6, 49.7,
    50.5, 48.0, 49.2, 50.0, 51.0, 50.3, 48.5, 44.8, 45.3, 46.6,
    44.0, 43.0, 42.0, 41.0, 38.8, 38.0, 37.2, 38.5, 39.3, 36.2,
    37.0, 38.2, 39.0, 37.6, 38.6, 37.8, 38.4, 37.3, 38.6, 36.6,
    40.6, 39.7, 37.0, 36.7, 42.0, 43.4, 44.4, 42.6, 43.8, 40.8,
    45.0, 46.3, 46.0, 47.6, 33.0, 34.2, 35.4, 33.6, 34.8, 32.4,
    35.9, 31.6, 33.1, 34.3, 35.2, 36.5,
    37.5, 38.4, 39.2, 40.9, 41.8, 43.6, 44.8, 45.6, 37.9, 38.9,
    40.2, 41.4, 43.1, 44.3, 45.9, 37.2, 38.3, 39.7, 40.9, 42.8,
    44.1, 37.1, 38.9, 40.5, 37.6, 39.2, 36.3, 36.9, 44.6, 46.6,
]
road_cons = [
    14.2, 13.65, 13.25, 13.55, 13.6, 13.15, 12.95, 13.0, 12.8, 12.8,
    12.7, 12.7, 13.0, 12.6, 12.55, 12.25, 12.15, 12.1, 12.15, 12.05,
    12.1, 12.05, 12.1, 12.2, 12.05, 12.1, 12.05, 12.1, 11.85, 11.85,
    11.85, 11.7, 11.6, 11.75, 11.5, 11.9, 11.95, 11.4, 11.35, 11.4,
    11.15, 10.95, 10.8, 10.35, 10.45, 10.45, 10.85, 11.05, 10.8, 10.6,
    10.7, 10.6, 10.35, 10.4, 10.25, 10.1, 10.05, 9.65, 9.65, 9.55,
    10.1, 10.05, 10.3, 10.7, 10.8, 10.85, 13.8, 13.8, 13.9, 13.9,
    13.65, 13.55, 13.55, 13.2, 12.8, 12.55, 12.45, 12.35, 12.8, 12.55,
    11.5, 11.05, 11.65, 10.55, 10.8, 11.9, 12.4, 12.0, 11.6, 11.3,
    11.5, 11.2, 12.55, 12.2, 11.9, 11.0, 10.9, 11.2, 11.6, 11.4,
    12.4, 12.3, 12.5, 12.9, 12.8, 13.0, 13.5, 13.4, 13.8, 13.8,
    14.2, 11.6, 11.3, 11.0, 10.8, 10.5, 10.2, 9.9, 9.7, 9.6,
    11.3, 11.8, 11.8, 11.4, 11.0, 11.0, 10.9, 10.3, 10.1, 9.9,
    10.6, 10.5, 12.0, 12.3, 13.0, 12.9, 13.1, 13.5, 13.4, 13.7,
    12.7, 13.2, 12.6, 12.5, 12.3, 12.9,
    12.45, 12.6, 12.4, 12.35, 12.7, 12.55, 12.45, 12.35, 11.85, 11.95,
    11.55, 11.45, 11.7, 11.65, 11.6, 11.2, 11.05, 11.05, 10.95, 10.65,
    10.7, 10.75, 10.5, 10.2, 9.75, 9.9, 11.6, 12.35, 12.15, 11.85,
]
road_dist = [
    40, 50, 60, 8, 30, 30, 30, 45, 30, 40,
    30, 40, 20, 70, 60, 90, 45, 40, 35, 40,
    35, 40, 30, 35, 40, 30, 35, 30, 40, 35,
    40, 35, 40, 60, 50, 35, 30, 35, 40, 35,
    45, 40, 70, 40, 35, 40, 35, 30, 35, 40,
    30, 35, 40, 35, 30, 40, 35, 40, 20, 40,
    40, 35, 40, 40, 35, 40, 70, 10, 20, 90,
    80, 160, 20, 100, 120, 60, 20, 40, 15, 40,
    120, 60, 80, 60, 70, 100, 40, 45, 40, 50,
    45, 35, 30, 40, 50, 30, 35, 40, 45, 40,
    35, 40, 35, 40, 35, 30, 30, 25, 30, 25,
    20, 40, 45, 40, 35, 40, 30, 35, 30, 35,
    35, 40, 45, 40, 35, 30, 35, 30, 30, 25,
    30, 45, 35, 90, 35, 30, 40, 35, 30, 30,
    40, 35, 40, 35, 40, 35,
    45, 40, 50, 45, 40, 45, 40, 50, 45, 40,
    50, 45, 40, 45, 40, 45, 40, 50, 45, 40,
    45, 40, 45, 40, 45, 40, 45, 40, 45, 50,
]

mid_speed = [
    55.0, 61.3, 51.1, 54.4, 56.3, 56.5, 57.0, 55.0, 56.2, 59.0,
    59.9, 62.2, 64.4, 65.1, 63.9, 64.7, 66.4, 67.6, 68.0, 68.2,
    59.0, 58.2, 62.4, 62.9, 63.8, 64.8, 66.4, 67.8, 58.8, 63.8,
    63.0, 63.3, 63.6, 61.2, 62.3, 66.7,
]
mid_cons = [
    17.0, 17.4, 16.0, 15.6, 15.8, 15.2, 14.5, 14.3, 14.0, 14.0,
    16.0, 15.7, 15.5, 15.0, 14.6, 16.7, 16.8, 16.9, 16.4, 16.2,
    13.25, 13.1, 13.45, 13.65, 13.8, 13.45, 13.5, 13.9, 12.15, 12.55,
    12.2, 11.9, 11.45, 10.95, 10.65, 10.75,
]
mid_dist = [
    250, 220, 60, 80, 220, 250, 250, 140, 180, 60,
    200, 200, 220, 220, 220, 220, 220, 220, 220, 220,
    160, 60, 160, 170, 180, 170, 90, 180, 100, 160,
    140, 200, 200, 140, 160, 170,
]

highway_speed = [
    80.3, 84.4,
    81.4, 81.5, 68.3,
    80.1, 80.0, 82.7, 84.2, 84.6,
    70.8, 72.3, 73.1, 77.8, 78.6, 79.6, 81.0, 83.3, 85.6,
    73.3, 76.5, 77.5, 78.3, 79.2, 80.3, 81.5, 82.6, 83.8, 85.3, 87.2,
    74.8, 76.2, 77.3, 78.4, 79.6, 80.6, 81.8, 82.9, 84.1, 85.5, 86.6,
    70.8, 69.5, 75.5, 76.6, 77.5, 78.6, 79.4, 80.4, 81.4, 82.4, 83.6, 84.8, 86.9, 87.6,
    71.0, 73.5, 74.6, 75.8, 76.8, 77.7, 78.7, 79.7, 80.7, 81.8, 82.9, 84.0, 85.2, 86.2, 92.5,
    69.3, 70.8, 72.4, 73.6, 74.7, 75.6, 76.5, 77.4, 78.3, 79.3, 80.3, 81.3, 82.4, 83.5, 84.6, 85.8, 86.8, 88.0,
    71.5, 73.0, 74.0, 75.0, 76.0, 76.9, 77.8, 78.7, 79.6, 80.5, 81.5, 82.5, 83.6, 84.8, 85.9, 88.7,
    69.3, 70.8, 72.2, 73.4, 74.5, 75.6, 76.6, 77.5, 78.4, 79.3, 80.2, 81.1, 82.0, 83.0, 84.1, 85.3, 86.5, 88.9, 87.4,
    68.2, 70.2, 71.4, 72.6, 73.8, 75.0, 76.2, 77.4, 78.6, 79.8, 81.0, 82.2, 83.4, 86.1,
    70.0, 71.0, 71.8, 72.5, 73.6, 74.9, 76.4, 78.0, 79.6, 84.5, 87.7, 70.6, 65.9,
    71.9, 72.9, 74.0, 75.0, 70.2, 73.5, 77.0, 73.1, 69.5, 71.0, 75.9,
    77.0, 78.0, 79.0, 80.0, 81.0, 79.5, 80.8, 78.5, 79.8, 81.8, 77.2, 78.2, 80.1, 81.2, 79.0, 80.2, 78.0,
    74.2, 75.2, 76.3, 77.3, 78.9, 80.4, 81.6, 82.8, 83.9, 76.0, 77.0, 78.0, 80.9,
    82.2, 83.3, 79.2, 80.6, 82.0, 75.3, 77.0, 81.5, 74.2, 83.0, 79.0, 80.0,
]
highway_cons = [
    19.4, 19.4,
    19.05, 18.8, 18.7,
    18.4, 18.2, 18.05, 18.0, 17.9,
    17.8, 17.8, 17.7, 17.65, 17.5, 17.7, 17.6, 17.6, 17.55,
    16.9, 17.2, 17.35, 17.1, 17.3, 17.15, 17.35, 17.2, 17.05, 17.25, 17.3,
    16.6, 16.8, 16.65, 16.85, 16.7, 16.9, 16.65, 16.8, 16.7, 16.75, 16.55,
    16.4, 16.2, 16.3, 16.15, 16.35, 16.2, 16.4, 16.25, 16.1, 16.35, 16.2, 16.3, 16.1, 16.4,
    15.6, 15.8, 15.65, 15.85, 15.7, 15.9, 15.65, 15.85, 15.7, 15.9, 15.75, 15.6, 15.8, 15.55, 15.5,
    15.3, 15.05, 15.3, 15.15, 15.35, 15.2, 15.4, 15.25, 15.1, 15.35, 15.2, 15.4, 15.15, 15.3, 15.1, 15.35, 15.2, 15.4,
    14.8, 14.6, 14.85, 14.7, 14.9, 14.65, 14.85, 14.6, 14.8, 14.65, 14.9, 14.7, 14.85, 14.6, 14.8, 14.55,
    14.3, 14.2, 14.35, 14.15, 14.4, 14.25, 14.45, 14.2, 14.4, 14.15, 14.35, 14.2, 14.4, 14.15, 14.3, 14.1, 14.35, 14.25, 14.0,
    13.8, 13.55, 13.8, 13.65, 13.85, 13.7, 13.9, 13.75, 13.9, 13.7, 13.85, 13.75, 13.9, 13.85,
    13.3, 13.35, 13.2, 13.0, 13.3, 13.15, 13.35, 13.4, 13.45, 13.2, 13.3, 13.1, 13.5,
    12.8, 12.7, 12.9, 12.85, 12.3, 12.15, 12.05, 11.95, 11.85, 11.7, 11.75,
    14.5, 14.3, 14.55, 14.45, 14.6, 14.2, 14.1, 15.0, 15.0, 14.95, 15.55, 15.45, 15.5, 15.65, 16.0, 16.55, 16.5,
    15.0, 14.5, 15.05, 14.0, 13.95, 13.95, 14.35, 14.55, 14.05, 15.5, 16.0, 15.8, 16.0,
    15.45, 15.55, 15.6, 15.0, 15.2, 13.4, 13.5, 13.6, 16.0, 16.5, 17.0, 17.55,
]
highway_dist = [
    220, 240,
    220, 210, 240,
    220, 230, 230, 220, 240,
    230, 220, 240, 220, 230, 210, 230, 220, 230,
    230, 220, 240, 230, 220, 230, 210, 240, 220, 230, 230,
    230, 220, 230, 240, 220, 230, 220, 230, 240, 220, 230,
    230, 230, 230, 220, 240, 230, 220, 230, 240, 220, 230, 220, 230, 230,
    230, 220, 230, 240, 220, 230, 230, 220, 240, 230, 220, 230, 240, 220, 240,
    230, 230, 220, 240, 230, 220, 230, 240, 230, 220, 230, 240, 230, 220, 230, 240, 220, 230,
    230, 220, 240, 230, 220, 230, 240, 230, 220, 230, 240, 230, 220, 230, 240, 230,
    230, 220, 240, 230, 220, 230, 240, 230, 220, 230, 240, 230, 220, 230, 240, 230, 220, 230, 230,
    230, 220, 240, 230, 220, 230, 240, 230, 220, 230, 240, 230, 220, 230,
    230, 220, 240, 230, 220, 230, 240, 230, 220, 230, 230, 220, 230,
    230, 220, 240, 230, 220, 230, 230, 220, 230, 220, 230,
    230, 220, 230, 240, 220, 230, 230, 220, 230, 230, 220, 230, 240, 220, 230, 220, 230,
    230, 220, 240, 230, 220, 230, 240, 230, 220, 230, 220, 230, 240,
    230, 220, 230, 220, 230, 240, 230, 220, 230, 230, 220, 230,
]

x_ticks = [0, 10, 20, 30, 40, 50, 60, 70, 80, 90, 100]
y_ticks = [8, 10, 12, 14, 16, 18, 20]

title_text = "<b>Corrélation Consommation - Vitesse moyenne</b>"
subtitle_text = "La surface des bulles est proportionnelle à la distance des trajets"
source_text = "(Rozlou, e-Niro, janvier 2019 - mars 2025)"
y_unit = "kWh/100km"
x_unit = "km/h"

# ---------------- build -------------------------------------------------------------------
groups = [
    (short_speed, short_cons, short_dist),
    (urban_speed, urban_cons, urban_dist),
    (urban2_speed, urban2_cons, urban2_dist),
    (urban3_speed, urban3_cons, urban3_dist),
    (core_speed, core_cons, core_dist),
    (core2_speed, core2_cons, core2_dist),
    (core3_speed, core3_cons, core3_dist),
    (road_speed, road_cons, road_dist),
    (mid_speed, mid_cons, mid_dist),
    (highway_speed, highway_cons, highway_dist),
]
xs, ys, ds = [], [], []
for sx, sy, sd in groups:
    for a, b, c in zip(sx, sy, sd):
        xs.append(a)
        ys.append(b)
        ds.append(c)

BLUE = "#0070C0"
MAX_PX = 22
sizeref = 2.0 * max(ds) / (MAX_PX ** 2)

fig = go.Figure(
    go.Scatter(
        x=xs, y=ys, mode="markers", hoverinfo="skip",
        marker=dict(symbol="circle-open", size=ds, sizemode="area", sizeref=sizeref,
                    sizemin=2, color=BLUE, line=dict(width=2, color=BLUE)),
    )
)

FONT = "Lato"
GRID = "#ababab"
fig.update_layout(
    width=1000, height=605,
    margin=dict(l=43, r=74, t=107, b=42, autoexpand=False),
    paper_bgcolor="white", plot_bgcolor="white",
    showlegend=False,
    font=dict(family=FONT, color="#333333"),
)
fig.update_xaxes(
    range=[0, 100], tickvals=x_ticks, ticktext=[str(v) for v in x_ticks],
    showgrid=True, gridcolor=GRID, gridwidth=1, zeroline=False,
    showline=True, mirror=True, linecolor=GRID, linewidth=1,
    ticks="outside", ticklen=14, tickcolor="rgba(0,0,0,0)", automargin=False,
    tickfont=dict(family=FONT, size=16, color="#333333"),
)
fig.update_yaxes(
    range=[8, 20], tickvals=y_ticks, ticktext=[str(v) for v in y_ticks],
    showgrid=True, gridcolor=GRID, gridwidth=1, zeroline=False,
    showline=True, mirror=True, linecolor=GRID, linewidth=1,
    ticks="outside", ticklen=9, tickcolor="rgba(0,0,0,0)", automargin=False,
    tickfont=dict(family=FONT, size=16, color="#333333"),
)

def py(p):
    return (563 - p) / 456.0

def px(p):
    return (p - 43) / 883.0

fig.add_annotation(text=title_text, xref="paper", yref="paper", x=px(500), y=py(20),
                   xanchor="center", yanchor="middle", showarrow=False,
                   font=dict(family=FONT, size=30, color="#111111"))
fig.add_annotation(text=subtitle_text, xref="paper", yref="paper", x=px(502), y=py(58),
                   xanchor="center", yanchor="middle", showarrow=False,
                   font=dict(family=FONT, size=27, color="#111111"))
fig.add_annotation(text=source_text, xref="paper", yref="paper", x=px(501), y=py(91),
                   xanchor="center", yanchor="middle", showarrow=False,
                   font=dict(family=FONT, size=23, color="#111111"))
fig.add_annotation(text=y_unit, xref="paper", yref="paper", x=px(6), y=py(76),
                   xanchor="left", yanchor="middle", showarrow=False,
                   font=dict(family=FONT, size=15, color="#333333"))
fig.add_annotation(text=x_unit, xref="paper", yref="paper", x=px(946), y=py(590),
                   xanchor="left", yanchor="middle", showarrow=False,
                   font=dict(family=FONT, size=16, color="#333333"))

fig.write_html("out.html", config={"displayModeBar": False},
               post_script="document.body.style.margin = '0';")
